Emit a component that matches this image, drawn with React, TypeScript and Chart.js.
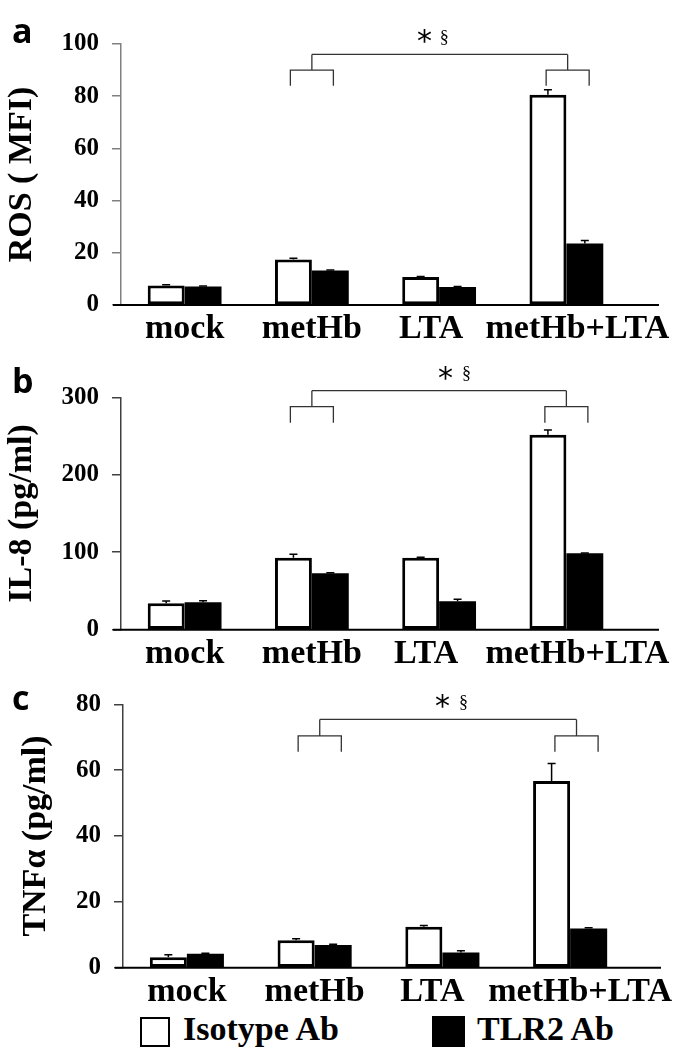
import React, { useEffect, useRef } from 'react';
import { Chart, registerables } from 'chart.js';
Chart.register(...registerables);

const categories = ['mock', 'metHb', 'LTA', 'metHb+LTA'];
const seriesNames = ['Isotype Ab', 'TLR2 Ab'];

const rosIsotype = [7.5, 17.4, 10.7, 80.6];
const rosIsotypeErr = [0.3, 0.5, 0.2, 1.9];
const rosTlr2 = [7.1, 13.2, 6.9, 23.6];
const rosTlr2Err = [0.2, 0.2, 0.2, 1.1];
const rosTicks = [0, 20, 40, 60, 80, 100];

const il8Isotype = [34, 93, 93, 251.7];
const il8IsotypeErr = [3, 4.5, 0.5, 6];
const il8Tlr2 = [35.5, 73, 36.6, 98.6];
const il8Tlr2Err = [2, 0.5, 2.6, 0.5];
const il8Ticks = [0, 100, 200, 300];

const tnfIsotype = [3.2, 8.3, 12.4, 56.7];
const tnfIsotypeErr = [0.7, 0.5, 0.45, 5.3];
const tnfTlr2 = [4.2, 6.9, 4.6, 11.9];
const tnfTlr2Err = [0.2, 0.2, 0.55, 0.2];
const tnfTicks = [0, 20, 40, 60, 80];

// significance bracket levels (data units): [leg bottom, bracket, connector]
const rosBracket = [84, 90, 96];
const il8Bracket = [267, 288, 308.5];
const tnfBracket = [65.6, 70.4, 75.4];
const significanceMarks = ['*', '§'];

const SERIF = '"Liberation Serif", "Times New Roman", serif';
const SANS = '"Open Sans", "Liberation Sans", sans-serif';

type Panel = {
  letter: string; title: string;
  iso: number[]; isoErr: number[]; tlr: number[]; tlrErr: number[];
  ticks: number[]; bracket: number[];
  top: number; height: number; padTop: number; xHeight: number; yWidth: number; padRight: number;
  axisEnd: number; letterBaseline: number; titlePad: number; axisColor: string;
  bracketCenters: number[]; starX: number; sectX: number; labelShift: number[];
};

const panels: Panel[] = [
  {
    letter: 'a', title: 'ROS ( MFI)', iso: rosIsotype, isoErr: rosIsotypeErr, tlr: rosTlr2, tlrErr: rosTlr2Err,
    ticks: rosTicks, bracket: rosBracket,
    top: 0, height: 345, padTop: 44, xHeight: 40, yWidth: 121, padRight: 48,
    axisEnd: 659, letterBaseline: 43, titlePad: 2, axisColor: '#808080',
    bracketCenters: [1.0, 3.01], starX: 1.885, sectX: 2.04, labelShift: [0, 0, -8, 11],
  },
  {
    letter: 'b', title: 'IL-8 (pg/ml)', iso: il8Isotype, isoErr: il8IsotypeErr, tlr: il8Tlr2, tlrErr: il8Tlr2Err,
    ticks: il8Ticks, bracket: il8Bracket,
    top: 345, height: 325, padTop: 52.3, xHeight: 40.3, yWidth: 121, padRight: 48,
    axisEnd: 659, letterBaseline: 48, titlePad: 2, axisColor: '#404040',
    bracketCenters: [1.0, 3.0], starX: 2.05, sectX: 2.215, labelShift: [0, 0, -13, 11],
  },
  {
    letter: 'c', title: 'TNFα (pg/ml)', iso: tnfIsotype, isoErr: tnfIsotypeErr, tlr: tnfTlr2, tlrErr: tnfTlr2Err,
    ticks: tnfTicks, bracket: tnfBracket,
    top: 670, height: 338, padTop: 34.3, xHeight: 40.3, yWidth: 123, padRight: 44,
    axisEnd: 661, letterBaseline: 40, titlePad: 16, axisColor: '#404040',
    bracketCenters: [1.04, 3.05], starX: 2.0, sectX: 2.165, labelShift: [0, 0, -10, 10],
  },
];

function drawCentered(ctx: CanvasRenderingContext2D, text: string, cx: number, cy: number) {
  const m = ctx.measureText(text);
  const asc = m.actualBoundingBoxAscent, desc = m.actualBoundingBoxDescent;
  ctx.textAlign = 'center';
  ctx.textBaseline = 'alphabetic';
  ctx.fillText(text, cx, cy + (asc - desc) / 2);
}

const annotPlugin = {
  id: 'annot',
  beforeDraw(chart: any, _args: any, opts: any) {
    // nudge category labels horizontally as in the original figure
    const xs = chart.scales.x;
    const items = xs.getLabelItems(chart.chartArea);
    items.forEach((it: any, i: number) => {
      const d = opts.labelShift ? opts.labelShift[i] || 0 : 0;
      if (d && !it.__shifted) {
        it.options.translation = [it.options.translation[0] + d, it.options.translation[1]];
        it.__shifted = true;
      }
    });
  },
  afterDatasetsDraw(chart: any, _args: any, opts: any) {
    const ctx: CanvasRenderingContext2D = chart.ctx;
    const xs = chart.scales.x, ys = chart.scales.y;
    const area = chart.chartArea;
    ctx.save();
    // error bars
    chart.data.datasets.forEach((ds: any, di: number) => {
      const meta = chart.getDatasetMeta(di);
      meta.data.forEach((bar: any, i: number) => {
        const e = ds.errors ? ds.errors[i] : 0;
        if (!e) return;
        const t = ys.getPixelForValue(ds.data[i] + e);
        ctx.strokeStyle = '#000';
        ctx.lineWidth = 1.5;
        ctx.beginPath();
        ctx.moveTo(bar.x, bar.y);
        ctx.lineTo(bar.x, t);
        ctx.moveTo(bar.x - 4, t);
        ctx.lineTo(bar.x + 4, t);
        ctx.stroke();
      });
    });
    // baseline
    const y0 = ys.getPixelForValue(0);
    ctx.strokeStyle = '#000';
    ctx.lineWidth = 2;
    ctx.beginPath();
    ctx.moveTo(area.left - 8, y0);
    ctx.lineTo(opts.axisEnd, y0);
    ctx.stroke();
    // brackets
    const cw = xs.getPixelForValue(1) - xs.getPixelForValue(0);
    const [lo, mid, hi] = opts.bracket;
    const yLo = ys.getPixelForValue(lo), yMid = ys.getPixelForValue(mid), yHi = ys.getPixelForValue(hi);
    const half = 0.169 * cw;
    ctx.strokeStyle = '#333';
    ctx.lineWidth = 1.3;
    const stems: number[] = [];
    opts.bracketCenters.forEach((c: number) => {
      const cx = xs.getPixelForValue(c);
      stems.push(cx);
      ctx.beginPath();
      ctx.moveTo(cx - half, yLo);
      ctx.lineTo(cx - half, yMid);
      ctx.lineTo(cx + half, yMid);
      ctx.lineTo(cx + half, yLo);
      ctx.moveTo(cx, yMid);
      ctx.lineTo(cx, yHi);
      ctx.stroke();
    });
    ctx.beginPath();
    ctx.moveTo(stems[0], yHi);
    ctx.lineTo(stems[1], yHi);
    ctx.stroke();
    // significance marks
    ctx.fillStyle = '#000';
    ctx.font = '30px "DejaVu Sans", sans-serif';
    drawCentered(ctx, significanceMarks[0], xs.getPixelForValue(opts.starX), yHi - 18);
    ctx.font = '18px "Liberation Serif", serif';
    drawCentered(ctx, significanceMarks[1], xs.getPixelForValue(opts.sectX), yHi - 17);
    // panel letter
    ctx.font = `bold 34px ${SANS}`;
    ctx.textAlign = 'left';
    ctx.textBaseline = 'alphabetic';
    ctx.fillText(opts.letter, 12, opts.letterBaseline);
    ctx.restore();
  },
};

function PanelChart({ p }: { p: Panel }) {
  const ref = useRef<HTMLCanvasElement>(null);
  useEffect(() => {
    if (!ref.current) return;
    const maxV = p.ticks[p.ticks.length - 1];
    const chart = new Chart(ref.current, {
      type: 'bar',
      data: {
        labels: categories,
        datasets: [
          { label: seriesNames[0], data: p.iso, errors: p.isoErr, backgroundColor: '#ffffff', borderColor: '#000000', borderWidth: 3, borderSkipped: false } as any,
          { label: seriesNames[1], data: p.tlr, errors: p.tlrErr, backgroundColor: '#000000', borderColor: '#000000', borderWidth: 0 } as any,
        ],
      },
      options: {
        responsive: false,
        animation: false,
        devicePixelRatio: 1,
        layout: { padding: { top: p.padTop, right: p.padRight, left: 0, bottom: 0 } },
        datasets: { bar: { categoryPercentage: 0.58, barPercentage: 1 } },
        plugins: {
          legend: { display: false },
          tooltip: { enabled: false },
          annot: {
            axisEnd: p.axisEnd, bracket: p.bracket, bracketCenters: p.bracketCenters,
            starX: p.starX, sectX: p.sectX, letter: p.letter, letterBaseline: p.letterBaseline,
            labelShift: p.labelShift,
          },
        } as any,
        scales: {
          x: {
            type: 'category',
            offset: true,
            grid: { display: false, drawTicks: false },
            border: { display: false },
            ticks: {
              color: '#000', font: { family: SERIF, size: 34, weight: 'bold' },
              maxRotation: 0, minRotation: 0, autoSkip: false, padding: 4,
            },
            afterFit: (s: any) => { s.height = p.xHeight; },
          },
          y: {
            min: 0,
            max: maxV,
            afterBuildTicks: (s: any) => { s.ticks = p.ticks.map((v) => ({ value: v })); },
            grid: { display: true, drawOnChartArea: false, drawTicks: true, tickLength: 9, color: p.axisColor, lineWidth: 1.5 },
            border: { display: true, color: p.axisColor, width: 1.5 },
            ticks: { color: '#000', font: { family: SERIF, size: 25, weight: 'bold' }, padding: 13 },
            title: {
              display: true, text: p.title, color: '#000',
              font: { family: SERIF, size: 34, weight: 'bold' },
              padding: { top: p.titlePad, bottom: 0 },
            },
            afterFit: (s: any) => { s.width = p.yWidth; },
          },
        },
      } as any,
      plugins: [annotPlugin],
    });
    return () => chart.destroy();
  }, [p]);
  return (
    <canvas
      ref={ref}
      width={678}
      height={p.height}
      style={{ position: 'absolute', left: 0, top: p.top, width: 678, height: p.height }}
    />
  );
}

export default function App() {
  const textStyle: React.CSSProperties = {
    position: 'absolute', fontFamily: SERIF, fontWeight: 'bold', fontSize: 34, lineHeight: '34px',
    color: '#000', whiteSpace: 'nowrap',
  };
  return (
    <div style={{ position: 'absolute', left: 0, top: 0, width: 678, height: 1053, background: '#fff', overflow: 'hidden' }}>
      {panels.map((p) => <PanelChart key={p.letter} p={p} />)}
      <div style={{ position: 'absolute', left: 140, top: 1017, width: 30, height: 30, boxSizing: 'border-box', border: '2px solid #000', background: '#fff' }} />
      <div style={{ ...textStyle, left: 183, top: 1012 }}>{seriesNames[0]}</div>
      <div style={{ position: 'absolute', left: 432, top: 1016, width: 33, height: 31, background: '#000' }} />
      <div style={{ ...textStyle, left: 477, top: 1012 }}>{seriesNames[1]}</div>
    </div>
  );
}
